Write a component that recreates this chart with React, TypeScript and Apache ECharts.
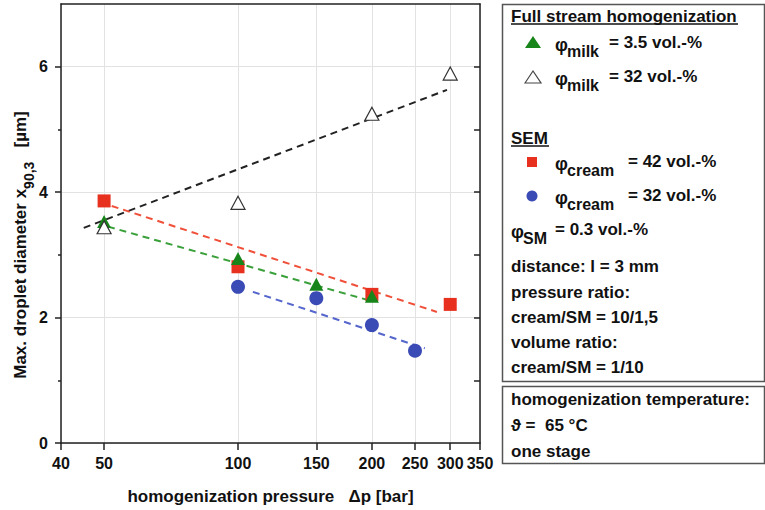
import React, { useEffect, useRef } from "react";
import * as echarts from "echarts";

// ---- data ----
const xTickValues = [40, 50, 100, 150, 200, 250, 300, 350];
const yMajorTicks = [0, 2, 4, 6];
const yMinorTicks = [1, 3, 5];
const yRightTicks = [1, 2, 3, 4, 5, 6];

const milk35X = [50, 100, 150, 200];
const milk35Y = [3.53, 2.94, 2.53, 2.34];
const milk32X = [50, 100, 200, 300];
const milk32Y = [3.44, 3.83, 5.25, 5.89];
const cream42X = [50, 100, 200, 300];
const cream42Y = [3.86, 2.81, 2.37, 2.21];
const cream32X = [100, 150, 200, 250];
const cream32Y = [2.49, 2.31, 1.88, 1.47];

// dashed trend lines (start / end points)
const trendMilk32X = [45, 295];
const trendMilk32Y = [3.43, 5.63];
const trendCream42X = [52, 280];
const trendCream42Y = [3.78, 2.09];
const trendMilk35X = [51, 198];
const trendMilk35Y = [3.45, 2.27];
const trendCream32X = [108, 263];
const trendCream32Y = [2.41, 1.51];

const FONT = "'Liberation Sans', Arial, sans-serif";
const TXT = "#111";

const zip = (xs: number[], ys: number[]) => xs.map((x, i) => [x, ys[i]]);

function txt(text: string, x: number, y: number, size = 17, extra: any = {}) {
  return {
    type: "text",
    x,
    y,
    silent: true,
    style: {
      text,
      fontFamily: FONT,
      fontWeight: "bold",
      fontSize: size,
      fill: TXT,
      textAlign: "left",
      textVerticalAlign: "middle",
      ...extra,
    },
  };
}

function phiRow(y: number, sub: string, eq: string, phiX: number, eqX: number) {
  const subX = phiX + 12;
  return [
    txt("φ", phiX, y + 2, 18),
    txt(sub, subX, y + 8, 16),
    txt(eq, eqX, y - 1, 17),
  ];
}

export default function App() {
  const ref = useRef<HTMLDivElement>(null);
  useEffect(() => {
    if (!ref.current) return;
    const chart = echarts.init(ref.current, null, { renderer: "svg" });
    const dashed = (xs: number[], ys: number[], color: string) => ({
      type: "line",
      data: zip(xs, ys),
      symbol: "none",
      silent: true,
      lineStyle: { color, width: 2, type: [7, 5] },
      z: 2,
    });
    const graphicEls: any[] = [
      // legend boxes
      {
        type: "rect",
        shape: { x: 502.5, y: 4.5, width: 262, height: 377 },
        style: { fill: "none", stroke: "#555", lineWidth: 1.5 },
        silent: true,
      },
      {
        type: "rect",
        shape: { x: 502.5, y: 386.5, width: 262, height: 77 },
        style: { fill: "none", stroke: "#555", lineWidth: 1.5 },
        silent: true,
      },
      txt("Full stream homogenization", 511, 16),
      {
        type: "line",
        shape: { x1: 511, y1: 24, x2: 738, y2: 24 },
        style: { stroke: TXT, lineWidth: 1.5 },
        silent: true,
      },
      {
        type: "polygon",
        shape: { points: [[525, 48], [533, 36], [541, 48]] },
        style: { fill: "#17851a" },
        silent: true,
      },
      ...phiRow(43, "milk", "= 3.5 vol.-%", 555, 609),
      {
        type: "polygon",
        shape: { points: [[525, 83], [533, 71], [541, 83]] },
        style: { fill: "#fff", stroke: "#444", lineWidth: 1.2 },
        silent: true,
      },
      ...phiRow(77, "milk", "= 32 vol.-%", 555, 609),
      txt("SEM", 511, 138),
      {
        type: "line",
        shape: { x1: 511, y1: 146, x2: 549, y2: 146 },
        style: { stroke: TXT, lineWidth: 1.5 },
        silent: true,
      },
      {
        type: "rect",
        shape: { x: 527, y: 157, width: 10, height: 10 },
        style: { fill: "#e8301f" },
        silent: true,
      },
      ...phiRow(162, "cream", "= 42 vol.-%", 555, 628),
      {
        type: "circle",
        shape: { cx: 532, cy: 196, r: 5.5 },
        style: { fill: "#3b4bb5" },
        silent: true,
      },
      ...phiRow(196, "cream", "= 32 vol.-%", 555, 628),
      ...phiRow(230, "SM", "= 0.3 vol.-%", 511, 555),
      txt("distance: l = 3 mm", 511, 266),
      txt("pressure ratio:", 511, 292),
      txt("cream/SM = 10/1,5", 511, 317),
      txt("volume ratio:", 511, 342),
      txt("cream/SM = 1/10", 511, 367),
      txt("homogenization temperature:", 511, 399),
      txt("ϑ =  65 °C", 511, 425),
      txt("one stage", 511, 451),
      // y axis title
      {
        type: "text",
        x: 20,
        y: 245,
        rotation: Math.PI / 2,
        silent: true,
        style: {
          text: "{n|Max. droplet diameter x}{s|90,3}{n|   [µm]}",
          textAlign: "center",
          textVerticalAlign: "middle",
          fill: TXT,
          rich: {
            n: { fontFamily: FONT, fontWeight: "bold", fontSize: 17, fill: TXT },
            s: {
              fontFamily: FONT,
              fontWeight: "bold",
              fontSize: 14,
              fill: TXT,
              padding: [18, 0, 0, 0],
            },
          },
        },
      },
    ];

    const option: any = {
      animation: false,
      backgroundColor: "#fff",
      grid: { left: 61, right: 285, top: 4, bottom: 65 },
      xAxis: [
        {
          type: "log",
          logBase: 10,
          min: 40,
          max: 350,
          position: "bottom",
          name: "homogenization pressure   Δp [bar]",
          nameLocation: "middle",
          nameGap: 45,
          nameTextStyle: { fontFamily: FONT, fontWeight: "bold", fontSize: 17, color: TXT },
          axisLine: { show: true, lineStyle: { color: "#222", width: 1.5 } },
          axisTick: {
            show: true,
            inside: false,
            length: 7,
            customValues: xTickValues,
            lineStyle: { color: "#222", width: 1.5 },
          },
          axisLabel: {
            customValues: xTickValues,
            fontFamily: FONT,
            fontWeight: "bold",
            fontSize: 16,
            color: TXT,
            margin: 12,
          },
          splitLine: { show: true, lineStyle: { color: "#e2e2e2", width: 1 } },
          minorTick: { show: false },
          minorSplitLine: { show: false },
        },
        {
          type: "log",
          logBase: 10,
          min: 40,
          max: 350,
          position: "top",
          axisLine: { show: true, onZero: false, lineStyle: { color: "#222", width: 1.5 } },
          axisTick: { show: false },
          axisLabel: { show: false },
          splitLine: { show: false },
        },
      ],
      yAxis: [
        {
          type: "value",
          min: 0,
          max: 7,
          interval: 1,
          position: "left",
          axisLine: { show: true, lineStyle: { color: "#222", width: 1.5 } },
          axisTick: {
            show: true,
            inside: false,
            length: 6,
            customValues: yMajorTicks,
            lineStyle: { color: "#222", width: 1.5 },
          },
          axisLabel: {
            customValues: yMajorTicks,
            fontFamily: FONT,
            fontWeight: "bold",
            fontSize: 16,
            color: TXT,
            margin: 13,
          },
          splitLine: { show: true, lineStyle: { color: "#e2e2e2", width: 1 } },
        },
        {
          type: "value",
          min: 0,
          max: 7,
          interval: 1,
          position: "left",
          axisLine: { show: false },
          axisTick: {
            show: true,
            inside: false,
            length: 3,
            customValues: yMinorTicks,
            lineStyle: { color: "#222", width: 1.5 },
          },
          axisLabel: { show: false },
          splitLine: { show: false },
        },
        {
          type: "value",
          min: 0,
          max: 7,
          interval: 1,
          position: "right",
          axisLine: { show: true, lineStyle: { color: "#222", width: 1.5 } },
          axisTick: {
            show: true,
            inside: true,
            length: 6,
            customValues: yRightTicks,
            lineStyle: { color: "#222", width: 1.5 },
          },
          axisLabel: { show: false },
          splitLine: { show: false },
        },
      ],
      series: [
        dashed(trendMilk32X, trendMilk32Y, "#222"),
        dashed(trendCream42X, trendCream42Y, "#f0503a"),
        dashed(trendMilk35X, trendMilk35Y, "#3aa03a"),
        dashed(trendCream32X, trendCream32Y, "#5566cc"),
        {
          type: "scatter",
          data: zip(cream42X, cream42Y),
          symbol: "rect",
          symbolSize: 13,
          itemStyle: { color: "#e8301f", opacity: 1 },
          z: 3,
        },
        {
          type: "scatter",
          data: zip(milk35X, milk35Y),
          symbol: "triangle",
          symbolSize: [14, 13],
          itemStyle: { color: "#17851a", opacity: 1 },
          z: 4,
        },
        {
          type: "scatter",
          data: zip(milk32X, milk32Y),
          symbol: "triangle",
          symbolSize: [14, 13],
          itemStyle: { color: "#fff", borderColor: "#333", borderWidth: 1.2, opacity: 1 },
          z: 5,
        },
        {
          type: "scatter",
          data: zip(cream32X, cream32Y),
          symbol: "circle",
          symbolSize: 14,
          itemStyle: { color: "#3b4bb5", opacity: 1 },
          z: 3,
        },
      ],
      graphic: { elements: graphicEls },
    };
    chart.setOption(option);
    return () => chart.dispose();
  }, []);
  return (
    <div
      ref={ref}
      style={{ position: "fixed", left: 0, top: 0, width: 765, height: 510, background: "#fff" }}
    />
  );
}
